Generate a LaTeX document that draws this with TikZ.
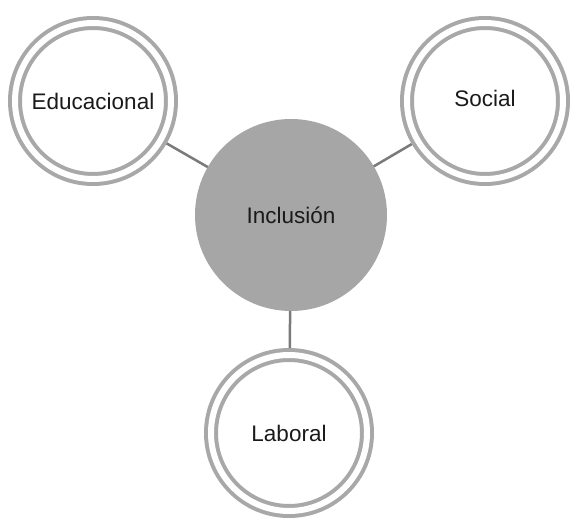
\documentclass[tikz,border=0pt]{standalone}
\usepackage{fontspec}
\setmainfont{Liberation Sans}
\usepackage{tikz}

\definecolor{ringgray}{HTML}{A8A8A8}
\definecolor{hubgray}{HTML}{A6A6A6}
\definecolor{linkgray}{HTML}{7A7A7A}
\definecolor{textgray}{HTML}{1A1A1A}

\begin{document}
\begin{tikzpicture}[x=1pt,y=-1pt]
\tikzstyle{every node}+=[inner sep=0pt, text=textgray, font=\fontsize{22.5}{26}\selectfont]
\tikzstyle{ring}=[circle, draw=ringgray, line width=4pt, double=white, double distance=6pt, minimum size=156pt, outer sep=7pt]
\tikzstyle{hub}=[circle, fill=hubgray, minimum size=192pt, outer sep=0pt]
\tikzstyle{link}=[draw=linkgray, line width=2.5pt]
\useasboundingbox (0,0) rectangle (571,522);
\node [hub] (inc) at (291,215) {Inclusión};
\node [ring] (edu) at (93,101) {\raisebox{-3pt}{Educacional}};
\node [ring] (soc) at (485,101) {\raisebox{6pt}{Social}};
\node [ring] (lab) at (289,433) {\raisebox{-4pt}{Laboral}};
\draw [link] (edu) -- (inc);
\draw [link] (soc) -- (inc);
\draw [link] (lab) -- (inc);
\end{tikzpicture}
\end{document}
